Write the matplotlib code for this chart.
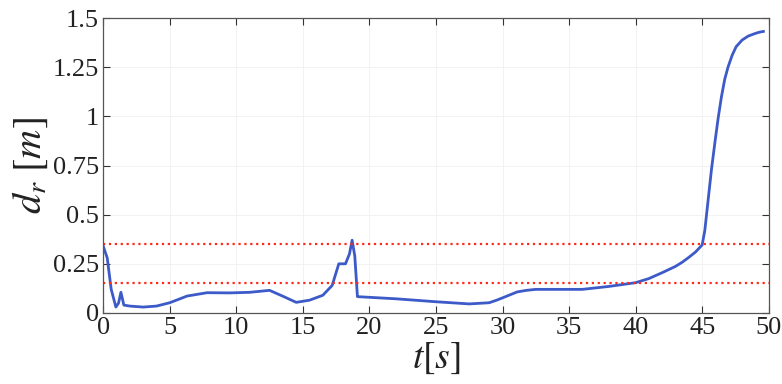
import matplotlib
matplotlib.use("Agg")
import matplotlib.pyplot as plt
import numpy as np

# distance d_r over time
t = [0.0, 0.3, 0.6, 0.95, 1.15, 1.33, 1.55, 2.0, 3.0, 4.0, 5.0, 6.3, 7.8, 9.5,
     11.0, 12.5, 13.5, 14.5, 15.5, 16.5, 17.2, 17.7, 18.2, 18.5, 18.7, 18.9,
     19.1, 22.0, 25.0, 27.5, 29.0, 29.6, 30.3, 31.1, 31.8, 32.5, 34.0, 36.0,
     38.0, 40.0, 41.0, 42.0, 43.0, 43.5, 44.0, 44.5, 45.0, 45.2, 45.45, 45.7,
     45.95, 46.2, 46.45, 46.7, 46.95, 47.25, 47.55, 48.0, 48.45, 49.0, 49.3,
     49.6]
d_r = [0.34, 0.28, 0.12, 0.03, 0.05, 0.105, 0.04, 0.035, 0.03, 0.035, 0.052,
       0.086, 0.103, 0.102, 0.105, 0.115, 0.085, 0.054, 0.065, 0.09, 0.14,
       0.25, 0.25, 0.30, 0.37, 0.29, 0.083, 0.072, 0.057, 0.046, 0.052, 0.066,
       0.085, 0.107, 0.115, 0.12, 0.12, 0.12, 0.135, 0.154, 0.175, 0.205,
       0.237, 0.258, 0.283, 0.31, 0.346, 0.42, 0.575, 0.73, 0.863, 0.99, 1.1,
       1.19, 1.252, 1.31, 1.354, 1.388, 1.408, 1.422, 1.428, 1.432]
thresholds = [0.35, 0.15]

plt.rcParams["font.family"] = ["Liberation Serif", "DejaVu Serif"]
plt.rcParams["mathtext.fontset"] = "stix"

fig = plt.figure(figsize=(7.82, 3.84), dpi=100)
ax = fig.add_axes([0.132, 0.185, 0.851, 0.768])

ax.plot(t, d_r, color="#3c5ac8", lw=2.0)
for th in thresholds:
    ax.axhline(th, color="#ff2a1a", ls=":", lw=1.6)

ax.set_xlim(0, 50)
ax.set_ylim(0, 1.5)
ax.set_xticks(np.arange(0, 51, 5))
ax.set_yticks([0, 0.25, 0.5, 0.75, 1, 1.25, 1.5])
ax.set_yticklabels(["0", "0.25", "0.5", "0.75", "1", "1.25", "1.5"])
ax.tick_params(direction="in", top=True, right=True, labelsize=19,
               length=5, width=0.8, colors="#333333", labelcolor="#222222", pad=3)
ax.grid(True, color="#f0f0f0", lw=0.6)
for s in ax.spines.values():
    s.set_color("#555555")
    s.set_linewidth(0.9)

ax.set_xlabel(r"$t\left[s\right]$", fontsize=27, labelpad=1, color="#222222")
ax.set_ylabel(r"$d_r\ [m]$", fontsize=29, labelpad=2, color="#222222")

fig.savefig("out.png", dpi=100)
